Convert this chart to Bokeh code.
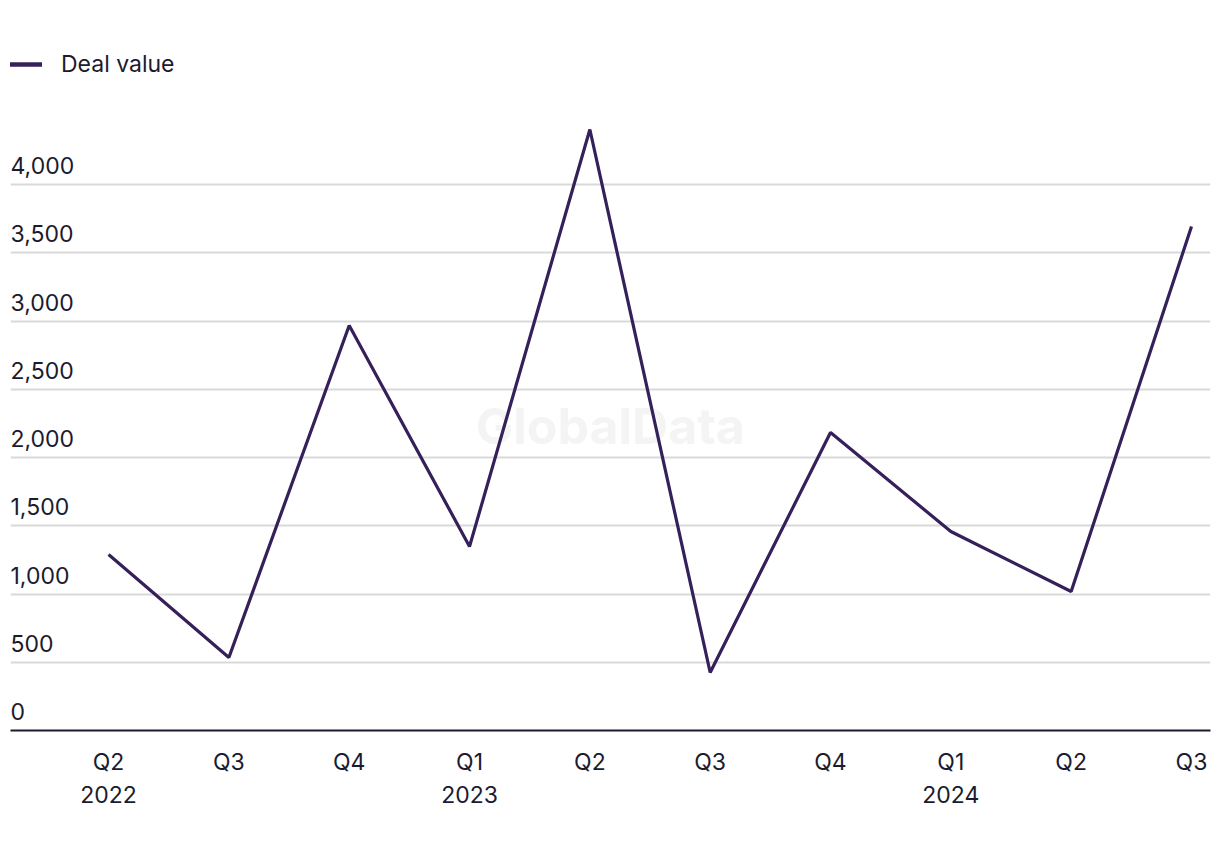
from bokeh.plotting import figure
from bokeh.models import FixedTicker, Range1d, Grid, Legend
from bokeh.core.properties import value
from bokeh.embed import file_html
from bokeh.resources import INLINE

quarters = ["Q2\n2022", "Q3", "Q4", "Q1\n2023", "Q2", "Q3", "Q4", "Q1\n2024", "Q2", "Q3"]
deal_value = [1289, 535, 2967, 1348, 4403, 425, 2183, 1458, 1018, 3692]
y_ticks = [0, 500, 1000, 1500, 2000, 2500, 3000, 3500, 4000]
y_tick_labels = ["0", "500", "1,000", "1,500", "2,000", "2,500", "3,000", "3,500", "4,000"]

FONT = "Inter"
TXT = "#1b1b2f"
LINE = "#35205a"

x = list(range(len(quarters)))
x_start, x_end = -0.815, 9.158

p = figure(width=1212, height=840, output_backend="svg", toolbar_location=None,
           y_axis_location=None, x_range=Range1d(x_start, x_end), y_range=Range1d(0, 4982),
           min_border_left=10, min_border_right=2, min_border_top=50, min_border_bottom=110)
p.outline_line_color = None
p.xgrid.visible = False
p.ygrid.visible = False
p.add_layout(Grid(dimension=1, ticker=FixedTicker(ticks=y_ticks[1:]),
                  grid_line_color="#d9d9d9", grid_line_width=2))

# watermark
p.text(x=[4.17], y=[2234], text=["GlobalData"], text_font=value(FONT), text_font_size="50px",
       text_font_style="bold", text_color="#f4f4f4", text_align="center", text_baseline="middle")

# y labels
p.text(x=[x_start] * len(y_ticks), y=y_ticks, text=y_tick_labels, text_font=value(FONT),
       text_font_size="23px", text_color=TXT, text_align="left", text_baseline="alphabetic",
       x_offset=0, y_offset=-19)

r = p.line(x, deal_value, line_width=3.2, line_color=LINE)
# legend-only renderer, placed outside the visible range
leg_r = p.line(x=[-20, -19], y=[-1000, -1000], line_width=4.5, line_color=LINE, line_cap="round")

legend = Legend(items=[("Deal value", [leg_r])], location="top_left", margin=0, padding=2,
                glyph_width=32, glyph_height=16, label_height=16, label_standoff=19,
                label_text_font=FONT, label_text_font_size="23px", label_text_color=TXT,
                background_fill_alpha=0, border_line_color=None)
p.add_layout(legend)

ax = p.xaxis[0]
ax.ticker = FixedTicker(ticks=x)
ax.major_label_overrides = {i: q for i, q in enumerate(quarters)}
ax.major_label_text_font = FONT
ax.major_label_text_font_size = "23px"
ax.major_label_text_color = TXT
ax.major_label_standoff = 11
ax.major_tick_line_color = None
ax.minor_tick_line_color = None
ax.axis_line_color = TXT
ax.axis_line_width = 2

open("out.html", "w").write(file_html(p, INLINE))
